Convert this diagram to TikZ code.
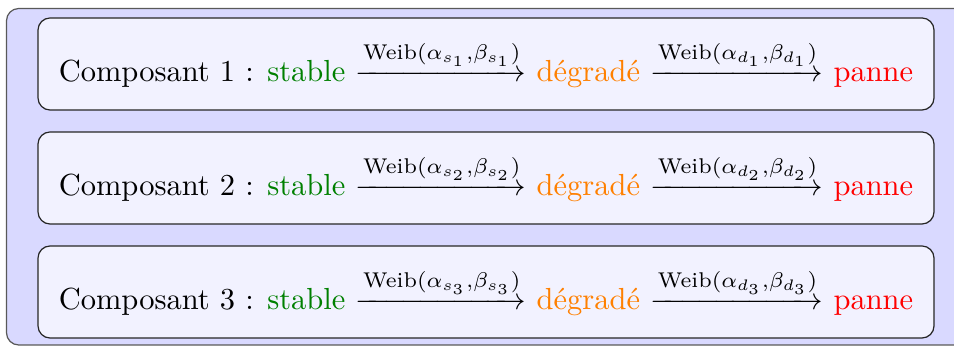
\documentclass[tikz,border=0pt]{standalone}
\usepackage{amsmath}
\usepackage{fontspec}
\definecolor{stablegreen}{rgb}{0,0.5,0}
\tikzset{
  outerbox/.style={draw=black!65, fill=blue!15, line width=0.4pt, rounded corners=4pt},
  compbox/.style={draw=black!85, fill=blue!5, line width=0.4pt, rounded corners=4pt,
    minimum width=293.8pt, minimum height=30.2pt, inner sep=0pt, anchor=center},
}
\newcommand{\weibarrow}[2]{\xrightarrow{\text{Weib}(\alpha_{#1},\beta_{#2})\mkern-4mu}}
\newcommand{\compline}[1]{Composant #1 : \textcolor{stablegreen}{stable} $\weibarrow{s_{#1}}{s_{#1}}$ \textcolor{orange}{dégradé} $\weibarrow{d_{#1}}{d_{#1}}$ \textcolor{red}{panne}}
\begin{document}
\begin{tikzpicture}[x=0.3279pt,y=-0.3279pt]
\useasboundingbox (0,0) rectangle (954,347);
\begin{scope}
\clip (0,0) rectangle (954,347);
\draw[outerbox] (6.5,8.5) rectangle (990,345);
\end{scope}
\node[compbox] (c1) at (486,64) {\compline{1}};
\node[compbox] (c2) at (486,178) {\compline{2}};
\node[compbox] (c3) at (486,292) {\compline{3}};
\end{tikzpicture}
\end{document}
